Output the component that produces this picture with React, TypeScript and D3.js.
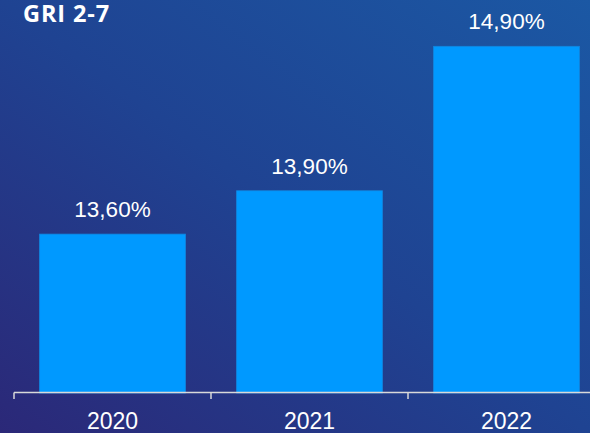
import React from "react";
import * as d3 from "d3";

const title = "GRI 2-7";
const categories = ["2020", "2021", "2022"];
const values = [13.6, 13.9, 14.9];
const valueLabels = ["13,60%", "13,90%", "14,90%"];
const yDomain = [12.5, 15.2];

const W = 590;
const H = 433;

export default function App() {
  const x = d3
    .scaleBand<string>()
    .domain(categories)
    .range([14, 605])
    .paddingInner(0.26)
    .paddingOuter(0.13);
  const step = x.step();
  const y = d3.scaleLinear().domain(yDomain).range([393, 3]);
  const base = y(yDomain[0]);
  const tickXs = d3.range(categories.length + 1).map((i) => 14 + i * step);

  return (
    <svg
      width={W}
      height={H}
      style={{ position: "absolute", left: 0, top: 0, display: "block" }}
    >
      <defs>
        <linearGradient id="bg" x1="1" y1="0" x2="0" y2="1">
          <stop offset="0" stopColor="#1b58a4" />
          <stop offset="0.5" stopColor="#1f4392" />
          <stop offset="1" stopColor="#2b2878" />
        </linearGradient>
      </defs>
      <rect x={0} y={0} width={W} height={H} fill="url(#bg)" />
      <text
        x={23}
        y={22}
        fill="#ffffff"
        fontFamily="'Open Sans', sans-serif"
        fontWeight={700}
        fontSize={23.5}
        letterSpacing={0.9}
      >
        {title}
      </text>
      {categories.map((c, i) => (
        <g key={c}>
          <rect
            x={x(c)}
            y={y(values[i])}
            width={x.bandwidth()}
            height={base - y(values[i])}
            fill="#0099ff"
            stroke="#1187e0"
            strokeWidth={0.8}
          />
          <text
            x={(x(c) as number) + x.bandwidth() / 2}
            y={y(values[i]) - 17}
            textAnchor="middle"
            fill="#ffffff"
            fontFamily="'Liberation Sans', Arial, sans-serif"
            fontSize={22.5}
          >
            {valueLabels[i]}
          </text>
          <text
            x={(x(c) as number) + x.bandwidth() / 2}
            y={429}
            textAnchor="middle"
            fill="#ffffff"
            fontFamily="'Liberation Sans', Arial, sans-serif"
            fontSize={23}
          >
            {c}
          </text>
        </g>
      ))}
      <line x1={14} x2={W} y1={392.5} y2={392.5} stroke="#d9d9d9" strokeWidth={1.5} />
      {tickXs.map((tx, i) => (
        <line key={i} x1={tx} x2={tx} y1={392.5} y2={399} stroke="#d9d9d9" strokeWidth={1.5} />
      ))}
    </svg>
  );
}
